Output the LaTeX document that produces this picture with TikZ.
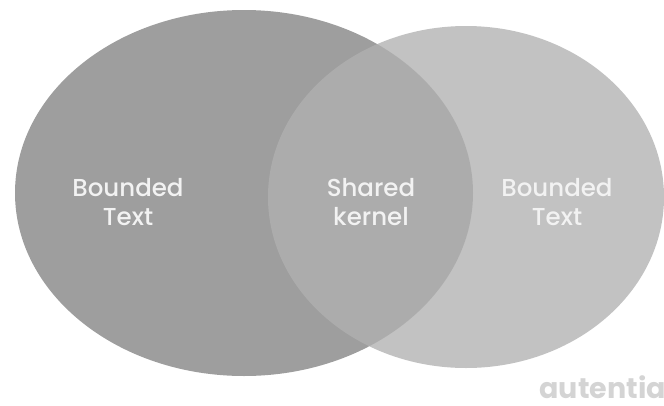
\documentclass[tikz,border=0pt]{standalone}
\usepackage{fontspec}
\setmainfont{Poppins}
\newfontface\ctxfont{Poppins Medium}
\usetikzlibrary{positioning}
\definecolor{vnleft}{HTML}{9E9E9E}
\definecolor{vnright}{HTML}{B1B1B1}
\definecolor{vnmark}{HTML}{D4D4D4}
\tikzset{
  ctxtext/.style={font=\ctxfont\fontsize{24.5}{29}\selectfont, text=white!95!black, align=center},
  brandmark/.style={font=\fontsize{28.5}{32}\selectfont\bfseries, text=vnmark, anchor=base west},
}
\begin{document}
\begin{tikzpicture}[x=1pt, y=-1pt]
  \useasboundingbox (0,0) rectangle (664,405);
  \clip (0,0) rectangle (664,405);
  % left context, then the right one laid over it so the overlap mixes
  \fill[vnleft] (244,193) ellipse [x radius=229, y radius=183];
  \fill[vnright, opacity=.78] (466,197) ellipse [x radius=198, y radius=171];
  \node[ctxtext] (left) at (128,202) {Bounded\\Text};
  \node[ctxtext] (shared) at (371,202) {Shared\\kernel};
  \node[ctxtext] (right) at (557,202) {Bounded\\Text};
  \node[brandmark] (brand) at (536,398) {autentia};
\end{tikzpicture}
\end{document}
